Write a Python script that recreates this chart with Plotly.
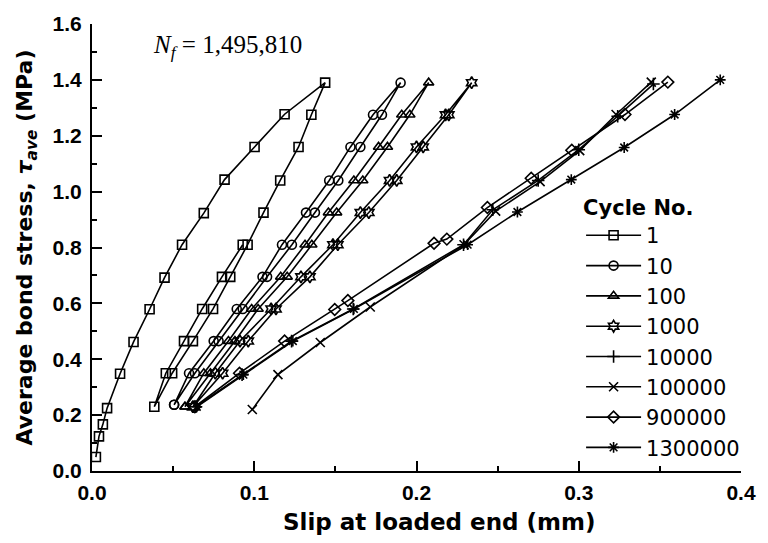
import plotly.graph_objects as go

# Bond stress–slip loops at selected load cycles (slip in mm, stress in MPa)
cycles = ["1", "10", "100", "1000", "10000", "100000", "900000", "1300000"]

slip_1 = [0.0024, 0.0043, 0.0067, 0.0093, 0.0173, 0.0256, 0.0355, 0.0447, 0.0555, 0.0689,
          0.0817, 0.1002, 0.1187, 0.1437, 0.1352, 0.1273, 0.1160, 0.1057, 0.0959, 0.0852,
          0.0746, 0.0622, 0.0494, 0.0384, 0.0455, 0.0567, 0.0679, 0.0801, 0.0929]
stress_1 = [0.05, 0.124, 0.167, 0.225, 0.348, 0.462, 0.579, 0.692, 0.81, 0.923,
            1.043, 1.16, 1.277, 1.39, 1.275, 1.16, 1.04, 0.925, 0.81, 0.695,
            0.58, 0.465, 0.35, 0.23, 0.35, 0.465, 0.58, 0.695, 0.81]

slip_10 = [0.0506, 0.0598, 0.0750, 0.0892, 0.1051, 0.1171, 0.1319, 0.1462, 0.1593, 0.1732, 0.1902,
           0.1787, 0.1654, 0.1518, 0.1374, 0.1232, 0.1079, 0.0929, 0.0780, 0.0634, 0.0506]
stress_10 = [0.237, 0.35, 0.465, 0.58, 0.695, 0.81, 0.925, 1.04, 1.16, 1.275, 1.39,
             1.275, 1.16, 1.04, 0.925, 0.81, 0.695, 0.58, 0.465, 0.35, 0.237]

slip_100 = [0.0573, 0.0689, 0.0841, 0.0984, 0.1163, 0.1313, 0.1457, 0.1614, 0.1766, 0.1909, 0.2075,
            0.1959, 0.1821, 0.1669, 0.1508, 0.1355, 0.1203, 0.1024, 0.0881, 0.0730, 0.0573]
stress_100 = [0.23, 0.35, 0.465, 0.58, 0.695, 0.81, 0.925, 1.04, 1.16, 1.275, 1.39,
              1.275, 1.16, 1.04, 0.925, 0.81, 0.695, 0.58, 0.465, 0.35, 0.23]

slip_1000 = [0.0622, 0.0760, 0.0912, 0.1104, 0.1288, 0.1485, 0.1654, 0.1834, 0.2000, 0.2179, 0.2340,
             0.2199, 0.2041, 0.1878, 0.1706, 0.1515, 0.1343, 0.1134, 0.0963, 0.0805, 0.0622]
stress_1000 = [0.23, 0.35, 0.465, 0.58, 0.695, 0.81, 0.925, 1.04, 1.16, 1.275, 1.39,
               1.275, 1.16, 1.04, 0.925, 0.81, 0.695, 0.58, 0.465, 0.35, 0.23]

slip_10000 = [0.0640, 0.0925, 0.1230, 0.1610, 0.2290, 0.2470, 0.2750, 0.3000, 0.3240, 0.3460]
stress_10000 = [0.23, 0.345, 0.465, 0.58, 0.81, 0.935, 1.04, 1.15, 1.27, 1.385]

slip_100000 = [0.0988, 0.1146, 0.1407, 0.1715, 0.2293, 0.2488, 0.2762, 0.3006, 0.3230, 0.3447]
stress_100000 = [0.22, 0.345, 0.46, 0.587, 0.81, 0.93, 1.036, 1.147, 1.276, 1.392]

slip_900000 = [0.0634, 0.0909, 0.1187, 0.1496, 0.1577, 0.2108, 0.2187, 0.2437, 0.2707, 0.2957, 0.3285, 0.3549]
stress_900000 = [0.23, 0.35, 0.465, 0.578, 0.61, 0.815, 0.83, 0.943, 1.048, 1.148, 1.276, 1.392]

slip_1300000 = [0.0646, 0.0933, 0.1238, 0.1614, 0.2315, 0.2622, 0.2954, 0.3280, 0.3591, 0.3872]
stress_1300000 = [0.23, 0.345, 0.465, 0.58, 0.81, 0.927, 1.043, 1.158, 1.276, 1.40]

series = [
    (slip_1, stress_1, "square-open"),
    (slip_10, stress_10, "circle-open"),
    (slip_100, stress_100, "triangle-up-open"),
    (slip_1000, stress_1000, "hexagram-open"),
    (slip_10000, stress_10000, "cross-thin-open"),
    (slip_100000, stress_100000, "x-thin-open"),
    (slip_900000, stress_900000, "diamond-open"),
    (slip_1300000, stress_1300000, "asterisk-open"),
]

fig = go.Figure()
for name, (xs, ys, sym) in zip(cycles, series):
    fig.add_trace(go.Scatter(
        x=xs, y=ys, name=name, legendgroup=name, mode="lines+markers",
        line=dict(color="black", width=1.6),
        marker=dict(symbol=sym, size=9, color="black", line=dict(color="black", width=1.6)),
    ))

tick_font = dict(family="Liberation Sans", size=21, color="black", weight="bold")
title_font = dict(family="DejaVu Sans", size=22, color="black", weight="bold")

fig.update_layout(
    width=768, height=543,
    margin=dict(l=92, r=20, t=14, b=72),
    paper_bgcolor="white", plot_bgcolor="white",
    showlegend=True,
    legend=dict(
        x=0.7536, y=0.6335, xanchor="left", yanchor="top",
        title=dict(text="<b>Cycle No.</b>", font=dict(family="DejaVu Sans", size=21, color="black")),
        font=dict(family="DejaVu Sans", size=21, color="black"),
        bgcolor="rgba(0,0,0,0)", tracegroupgap=0, traceorder="grouped",
        itemwidth=55,
    ),
    xaxis=dict(
        range=[0, 0.4], dtick=0.1, tick0=0, tickformat=".1f",
        ticks="inside", ticklen=10, tickwidth=2, tickcolor="black",
        minor=dict(dtick=0.05, ticks="inside", ticklen=5, tickwidth=2, tickcolor="black"),
        showline=True, linecolor="black", linewidth=2,
        showgrid=False, zeroline=False, tickfont=tick_font, ticklabelstandoff=2,
    ),
    yaxis=dict(
        range=[0, 1.6], dtick=0.2, tick0=0, tickformat=".1f",
        ticks="inside", ticklen=10, tickwidth=2, tickcolor="black",
        minor=dict(dtick=0.1, ticks="inside", ticklen=5, tickwidth=2, tickcolor="black"),
        showline=True, linecolor="black", linewidth=2,
        showgrid=False, zeroline=False, tickfont=tick_font, ticklabelstandoff=4,
        title=dict(text="Average bond stress, <i>τ<sub>ave</sub></i> (MPa)", font=title_font, standoff=14),
    ),
    annotations=[
        dict(
            text="<i>N<sub>f</sub></i> = 1,495,810", x=0.0366, y=1.52, xref="x", yref="y",
            xanchor="left", yanchor="middle", showarrow=False,
            font=dict(family="Liberation Serif", size=25, color="black"),
        ),
        # x-axis title, set slightly right of the plot centre
        dict(
            text="Slip at loaded end (mm)", x=0.535, y=-0.114, xref="paper", yref="paper",
            xanchor="center", yanchor="middle", showarrow=False,
            font=dict(family="DejaVu Sans", size=23, color="black", weight="bold"),
        ),
    ],
)

fig.write_html("out.html")
